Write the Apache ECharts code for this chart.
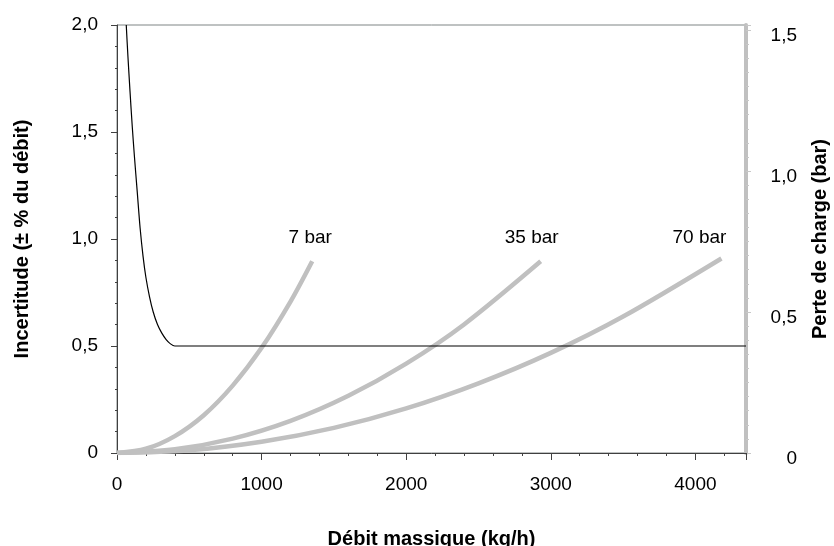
<!DOCTYPE html>
<html>
<head>
<meta charset="utf-8">
<script src="https://cdn.jsdelivr.net/npm/echarts@6/dist/echarts.min.js"></script>
<style>
  html, body { margin: 0; padding: 0; background: #fff; }
  #chart { width: 834px; height: 546px; }
</style>
</head>
<body>
<div id="chart"></div>
<script>
// incertitude (axe gauche)
var incertQ = [64, 75, 90, 105, 120, 140, 160, 180, 200, 225, 250, 280, 310, 340, 370, 400, 450, 4350];
var incertVal = [2.0, 1.86, 1.69, 1.53, 1.39, 1.22, 1.05, 0.92, 0.82, 0.73, 0.66, 0.6, 0.56, 0.53, 0.51, 0.5, 0.5, 0.5];

// perte de charge (axe droit)
var q7 = [0, 200, 400, 600, 800, 1000, 1200, 1350];
var dp7 = [0, 0.015, 0.06, 0.134, 0.239, 0.373, 0.537, 0.68];
var q35 = [0, 400, 800, 1200, 1600, 2000, 2400, 2930];
var dp35 = [0, 0.013, 0.051, 0.114, 0.203, 0.317, 0.456, 0.68];
var q70 = [0, 500, 1000, 1500, 2000, 2500, 3000, 3500, 4180];
var dp70 = [0, 0.01, 0.04, 0.089, 0.158, 0.247, 0.355, 0.484, 0.69];

var pressureNames = ['7 bar', '35 bar', '70 bar'];

var FONT = 'Liberation Sans, Arial, sans-serif';

function pairs(xs, ys) {
    var out = [];
    for (var i = 0; i < xs.length; i++) out.push([xs[i], ys[i]]);
    return out;
}

// courbe grise + étiquette sur le dernier point
function pressureSeries(name, xs, ys, dx, dy) {
    var data = pairs(xs, ys);
    var last = data.length - 1;
    data[last] = {
        value: data[last],
        label: {
            show: true,
            position: 'top',
            distance: 14,
            offset: [dx, dy],
            formatter: name,
            color: '#000',
            fontSize: 19,
            fontFamily: FONT
        }
    };
    return {
        name: name,
        type: 'line',
        yAxisIndex: 1,
        data: data,
        smooth: 0.3,
        symbol: 'circle',
        symbolSize: 1,
        showSymbol: true,
        itemStyle: { color: 'rgba(0,0,0,0)' },
        label: { show: false },
        lineStyle: { color: '#c0c0c0', width: 4.5 },
        z: 2
    };
}

var chart = echarts.init(document.getElementById('chart'));

chart.setOption({
    animation: false,
    backgroundColor: '#fff',
    grid: {
        left: 117, right: 88, top: 25, bottom: 93,
        outerBoundsMode: 'none',
        containLabel: false,
        show: true, borderColor: '#7f8585', borderWidth: 1
    },
    xAxis: {
        type: 'value',
        min: 0, max: 4350, interval: 1000,
        name: 'Débit massique (kg/h)',
        nameLocation: 'middle',
        nameGap: 76,
        nameTextStyle: { fontSize: 20, fontWeight: 'bold', fontFamily: FONT, color: '#000' },
        axisLine: { show: true, onZero: false, lineStyle: { color: '#404040', width: 1 } },
        axisTick: { show: true, inside: false, length: 7, lineStyle: { color: '#404040' } },
        minorTick: { show: true, splitNumber: 5, length: 3, lineStyle: { color: '#404040' } },
        splitLine: { show: false },
        axisLabel: {
            margin: 22, fontSize: 19, fontFamily: FONT, color: '#000',
            showMaxLabel: false,
            formatter: function (v) { return v % 1000 === 0 ? String(v) : ''; }
        }
    },
    yAxis: [
        {
            type: 'value',
            position: 'left',
            min: 0, max: 2, interval: 0.5,
            name: 'Incertitude (± % du débit)',
            nameLocation: 'middle',
            nameRotate: 90,
            nameGap: 85,
            nameTextStyle: { fontSize: 20, fontWeight: 'bold', fontFamily: FONT, color: '#000' },
            axisLine: { show: true, lineStyle: { color: '#404040', width: 1 } },
            axisTick: { show: true, length: 6, lineStyle: { color: '#404040' } },
            minorTick: { show: true, splitNumber: 5, length: 2, lineStyle: { color: '#404040' } },
            splitLine: { show: false },
            axisLabel: {
                margin: 19, fontSize: 19, fontFamily: FONT, color: '#000',
                formatter: function (v) { return v === 0 ? '0' : v.toFixed(1).replace('.', ','); }
            }
        },
        {
            type: 'value',
            position: 'right',
            min: 0, max: 1.518, interval: 0.5,
            name: 'Perte de charge (bar)',
            nameLocation: 'middle',
            nameRotate: 90,
            nameGap: 64,
            nameTextStyle: { fontSize: 20, fontWeight: 'bold', fontFamily: FONT, color: '#000' },
            axisLine: { show: true, lineStyle: { color: '#c0c0c0', width: 4 } },
            axisTick: { show: true, length: 5, lineStyle: { color: '#c8c8c8' } },
            minorTick: { show: true, splitNumber: 10, length: 3, lineStyle: { color: '#c8c8c8' } },
            splitLine: { show: false },
            axisLabel: {
                margin: 51, align: 'right', fontSize: 19, fontFamily: FONT, color: '#000',
                verticalAlign: 'top', lineHeight: 12,
                formatter: function (v) {
                    if (Math.abs(v * 2 - Math.round(v * 2)) > 1e-6) return '';
                    return v === 0 ? '0' : v.toFixed(1).replace('.', ',');
                }
            }
        }
    ],
    series: [
        pressureSeries(pressureNames[0], q7, dp7, -2, 0),
        pressureSeries(pressureNames[1], q35, dp35, -9, 0),
        pressureSeries(pressureNames[2], q70, dp70, -22, 3),
        {
            name: 'Incertitude',
            type: 'line',
            yAxisIndex: 0,
            data: pairs(incertQ, incertVal),
            smooth: 0.3,
            symbol: 'none',
            lineStyle: { color: '#000', width: 1.2 },
            z: 3
        }
    ]
});
</script>
</body>
</html>
